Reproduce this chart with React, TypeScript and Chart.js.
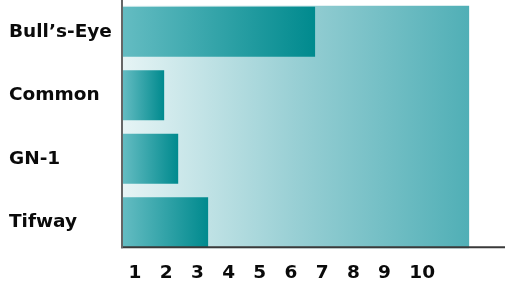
import React, { useEffect, useRef } from "react";
import { Chart, registerables } from "chart.js";

Chart.register(...registerables);

const categories = ["Bull’s-Eye", "Common", "GN-1", "Tifway"];
const values = [6.98, 2.14, 2.59, 3.55];
const tickValues = [1, 2, 3, 4, 5, 6, 7, 8, 9, 10];
const tickLabels = ["1", "2", "3", "4", "5", "6", "7", "8", "9", "10"];
const axisMin = 0.82;
const axisMax = 13.07;
const backgroundEnd = 11.92;

const FONT = "'DejaVu Sans', sans-serif";

const decorPlugin = {
  id: "decor",
  beforeDatasetsDraw(chart: any) {
    const { ctx, scales } = chart;
    const x = scales.x;
    const meta = chart.getDatasetMeta(0);
    const first = meta.data[0];
    const last = meta.data[meta.data.length - 1];
    const top = first.y - first.height / 2 - 1;
    const bottom = last.y + last.height / 2 + 1;
    const left = x.getPixelForValue(axisMin);
    const right = x.getPixelForValue(backgroundEnd);
    const g = ctx.createLinearGradient(left, 0, right, 0);
    g.addColorStop(0, "#e6f4f5");
    g.addColorStop(0.5, "#98cfd4");
    g.addColorStop(1, "#50afb6");
    ctx.save();
    ctx.fillStyle = g;
    ctx.fillRect(left, top, right - left, bottom - top);
    ctx.restore();
  },
  afterDatasetsDraw(chart: any) {
    const { ctx, chartArea } = chart;
    const meta = chart.getDatasetMeta(0);
    const last = meta.data[meta.data.length - 1];
    const axisY = last.y + last.height / 2;
    ctx.save();
    ctx.strokeStyle = "#3a3a3a";
    ctx.lineWidth = 2;
    ctx.beginPath();
    ctx.moveTo(chartArea.left - 2, axisY);
    ctx.lineTo(chartArea.right, axisY);
    ctx.stroke();
    ctx.strokeStyle = "#666666";
    ctx.beginPath();
    ctx.moveTo(chartArea.left - 1, chartArea.top);
    ctx.lineTo(chartArea.left - 1, axisY + 1);
    ctx.stroke();
    ctx.restore();
  },
};

export default function App() {
  const ref = useRef<HTMLCanvasElement | null>(null);
  useEffect(() => {
    const canvas = ref.current;
    if (!canvas) return;
    const chart = new Chart(canvas, {
      type: "bar",
      data: {
        labels: categories,
        datasets: [
          {
            data: values,
            backgroundColor: (c: any) => {
              const ch = c.chart;
              const x = ch.scales && ch.scales.x;
              if (!x || c.type !== "data") return "#2aa0a5";
              const start = x.getPixelForValue(axisMin);
              const end = x.getPixelForValue(values[c.dataIndex]);
              if (!isFinite(start) || !isFinite(end) || end <= start) return "#2aa0a5";
              const g = ch.ctx.createLinearGradient(start, 0, end, 0);
              g.addColorStop(0, "#64bcc2");
              g.addColorStop(1, "#008a8e");
              return g;
            },
            borderWidth: 0,
            categoryPercentage: 1,
            barPercentage: 0.787,
          },
        ],
      },
      options: {
        indexAxis: "y",
        responsive: false,
        animation: false,
        layout: { padding: { left: 9, right: 0, top: 0, bottom: 0 } },
        plugins: { legend: { display: false }, tooltip: { enabled: false } },
        scales: {
          x: {
            type: "linear",
            min: axisMin,
            max: axisMax,
            afterBuildTicks: (axis: any) => {
              axis.ticks = tickValues.map((v) => ({ value: v }));
            },
            afterFit: (axis: any) => {
              axis.height = 27;
              axis.paddingLeft = 0;
              axis.paddingRight = 0;
            },
            ticks: {
              callback: (v: any) => tickLabels[tickValues.indexOf(Number(v))],
              align: "start",
              autoSkip: false,
              maxRotation: 0,
              minRotation: 0,
              padding: 8,
              color: "#0a0a0a",
              font: { family: FONT, size: 18.5, weight: "bold" },
            },
            grid: { display: false, drawTicks: false },
            border: { display: false },
          },
          y: {
            type: "category",
            afterFit: (axis: any) => {
              axis.width = 114;
              axis.paddingTop = 0;
              axis.paddingBottom = 0;
            },
            ticks: {
              crossAlign: "far",
              color: "#0a0a0a",
              font: { family: FONT, size: 18.5, weight: "bold" },
            },
            grid: { display: false, drawTicks: false },
            border: { display: false },
          },
        },
      },
      plugins: [decorPlugin],
    } as any);
    return () => chart.destroy();
  }, []);
  return (
    <canvas
      ref={ref}
      width={505}
      height={281}
      style={{ position: "fixed", left: 0, top: 0, display: "block" }}
    />
  );
}
